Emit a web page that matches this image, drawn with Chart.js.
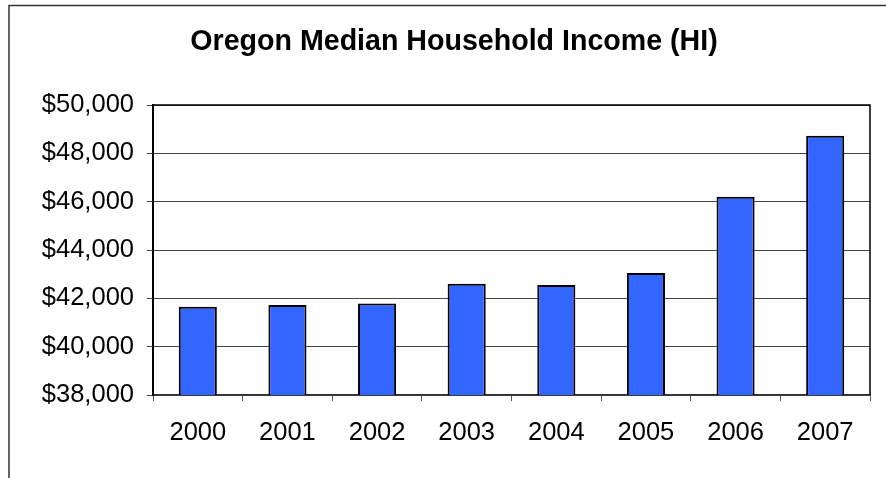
<!DOCTYPE html>
<html>
<head>
<meta charset="utf-8">
<script src="https://cdn.jsdelivr.net/npm/chart.js@4/dist/chart.umd.min.js"></script>
<style>
  html, body { margin: 0; padding: 0; background: #fff; }
  #wrap { position: relative; width: 886px; height: 478px; }
</style>
</head>
<body>
<div id="wrap"><canvas id="c" width="886" height="478"></canvas></div>
<script>
const chartTitle = 'Oregon Median Household Income (HI)';
const years = ['2000', '2001', '2002', '2003', '2004', '2005', '2006', '2007'];
const income = [41650, 41720, 41790, 42600, 42550, 43050, 46200, 48730];
const yMin = 38000;
const yMax = 50000;
const yStep = 2000;

const frameAndBox = {
  id: 'frameAndBox',
  afterDraw(chart) {
    const ctx = chart.ctx;
    const a = chart.chartArea;
    ctx.save();
    ctx.strokeStyle = '#333';
    ctx.lineWidth = 1.5;
    ctx.beginPath();
    ctx.moveTo(9, 478);
    ctx.lineTo(9, 5.5);
    ctx.lineTo(886, 5.5);
    ctx.stroke();
    ctx.strokeStyle = '#000';
    ctx.lineWidth = 1.5;
    ctx.beginPath();
    ctx.moveTo(a.left, a.top);
    ctx.lineTo(a.right, a.top);
    ctx.lineTo(a.right, a.bottom);
    ctx.stroke();
    ctx.restore();
  }
};

const labelFont = { family: 'Liberation Sans, Arial, sans-serif', size: 25.5 };

new Chart(document.getElementById('c'), {
  type: 'bar',
  data: {
    labels: years,
    datasets: [{
      data: income,
      backgroundColor: '#3366FF',
      borderColor: '#000',
      borderWidth: 2,
      borderSkipped: false,
      categoryPercentage: 1.0,
      barPercentage: 0.425
    }]
  },
  options: {
    responsive: false,
    animation: false,
    devicePixelRatio: 1,
    layout: { padding: { left: 38, right: 16, top: 0, bottom: 23 } },
    plugins: {
      legend: { display: false },
      tooltip: { enabled: false },
      title: {
        display: true,
        text: chartTitle,
        color: '#000',
        font: { family: 'Liberation Sans, Arial, sans-serif', size: 28.6, weight: 'bold' },
        padding: { top: 24.8, bottom: 45.9 }
      }
    },
    scales: {
      x: {
        afterFit(scale) { scale.height = 60; },
        grid: {
          offset: true,
          drawOnChartArea: false,
          drawTicks: true,
          tickLength: 6,
          color: '#555',
          tickColor: '#555'
        },
        border: { display: true, color: '#333', width: 1.5 },
        ticks: {
          color: '#000',
          padding: 17,
          font: labelFont
        }
      },
      y: {
        min: yMin,
        max: yMax,
        afterFit(scale) { scale.width = 115; },
        grid: {
          color: '#444',
          lineWidth: 1,
          drawTicks: true,
          tickLength: 6,
          tickColor: '#444'
        },
        border: { display: true, color: '#000', width: 2 },
        ticks: {
          stepSize: yStep,
          color: '#000',
          padding: 13,
          font: labelFont,
          callback: (v) => '$' + v.toLocaleString('en-US')
        }
      }
    }
  },
  plugins: [frameAndBox]
});
</script>
</body>
</html>
